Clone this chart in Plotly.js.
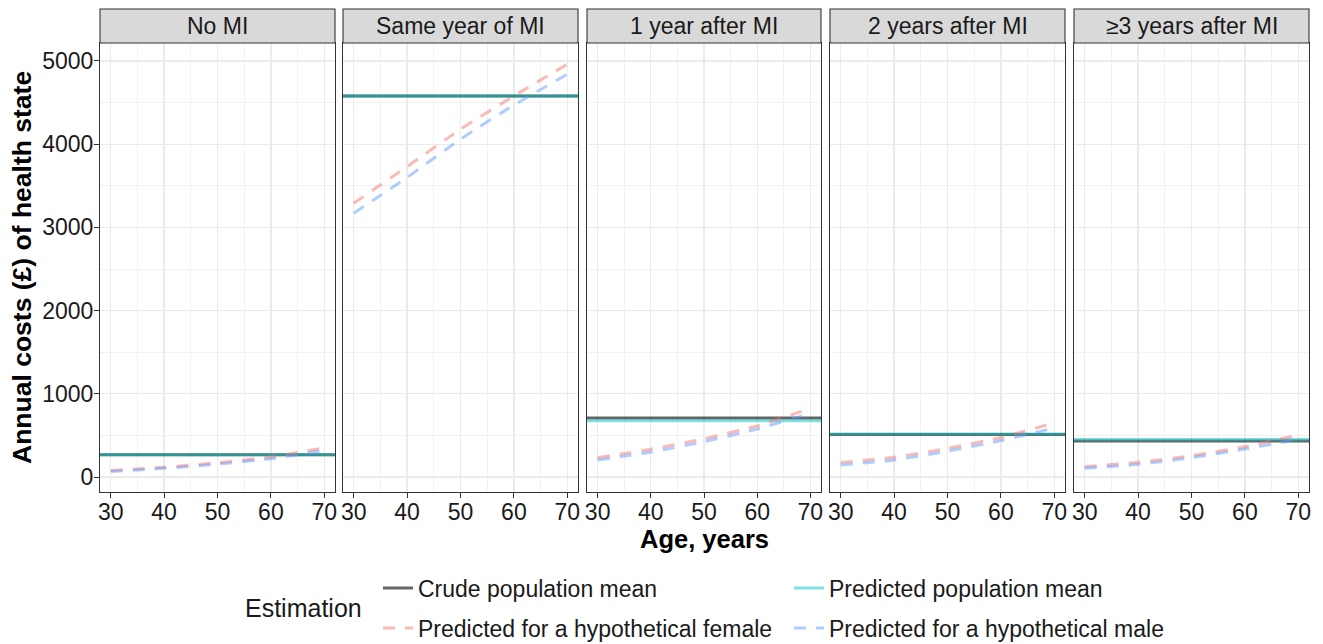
<!DOCTYPE html>
<html>
<head>
<meta charset="utf-8">
<script src="https://cdn.plot.ly/plotly-3.0.1.min.js"></script>
<style>html,body{margin:0;padding:0;background:#fff;}#chart{width:1323px;height:644px;}</style>
</head>
<body>
<div id="chart"></div>
<script>
// ---- data ----
const panels = ["No MI", "Same year of MI", "1 year after MI", "2 years after MI", "≥3 years after MI"];
const ages = [30, 40, 50, 60, 70];
const crudeMean = [268, 4580, 710, 512, 432];
const predictedMean = [268, 4580, 675, 518, 452];
const femaleCost = [
  [78, 118, 172, 242, 350],
  [3290, 3730, 4180, 4580, 4960],
  [232, 335, 460, 615, 825],
  [175, 238, 345, 475, 650],
  [124, 177, 257, 365, 505]
];
const maleCost = [
  [66, 104, 155, 220, 318],
  [3170, 3600, 4060, 4470, 4840],
  [205, 300, 425, 578, 765],
  [145, 205, 312, 438, 590],
  [104, 152, 233, 337, 455]
];
const seriesNames = ["Crude population mean", "Predicted population mean", "Predicted for a hypothetical female", "Predicted for a hypothetical male"];
const xTicks = [30, 40, 50, 60, 70];
const yTicks = [0, 1000, 2000, 3000, 4000, 5000];

// ---- layout helpers ----
const W = 1323, H = 644;
const mL = 100, mR = 14, mT = 43, mB = 152;
const plotW = W - mL - mR, plotH = H - mT - mB;
const panelPx = [[100, 335], [343, 578], [587, 821], [830, 1065], [1074, 1309]];
const toPX = px => (px - mL) / plotW;
const toPY = py => (H - mB - py) / plotH;
const toCX = px => px / W;
const toCY = py => 1 - py / H;

const FONT = "Liberation Sans, Arial, sans-serif";
const colCrude = "rgba(0,0,0,0.6)";
const colPred = "rgba(0,191,196,0.5)";
const colFem = "rgba(248,118,109,0.5)";
const colMale = "rgba(97,156,255,0.5)";

const traces = [];
const legendBase = {orientation: "h", xref: "container", yref: "container", xanchor: "left", yanchor: "middle",
  entrywidth: 366, entrywidthmode: "pixels", font: {family: FONT, size: 23, color: "#1a1a1a"},
  bgcolor: "rgba(0,0,0,0)", itemwidth: 30, tracegroupgap: 0};
const layout = {
  width: W, height: H,
  margin: {l: mL, r: mR, t: mT, b: mB, autoexpand: false},
  paper_bgcolor: "#fff", plot_bgcolor: "#fff",
  font: {family: FONT, size: 23, color: "#1a1a1a"},
  showlegend: true,
  shapes: [], annotations: [],
  legend: Object.assign({}, legendBase, {x: toCX(378), y: toCY(588)}),
  legend2: Object.assign({}, legendBase, {x: toCX(378), y: toCY(628)})
};

panels.forEach((name, i) => {
  const k = i === 0 ? "" : String(i + 1);
  const xa = "x" + k, ya = "y" + k;
  const dom = [toPX(panelPx[i][0]), toPX(panelPx[i][1])];
  layout["xaxis" + k] = {
    domain: dom, range: [28, 72], anchor: ya,
    tickvals: xTicks, ticktext: xTicks.map(String),
    ticks: "outside", ticklen: 5, tickcolor: "#333", tickwidth: 1,
    ticklabelstandoff: -6,
    tickfont: {family: FONT, size: 23, color: "#1a1a1a"},
    showgrid: true, gridcolor: "#EBEBEB", gridwidth: 1.2,
    minor: {dtick: 5, tick0: 25, showgrid: true, gridcolor: "#F1F1F1", gridwidth: 0.9},
    showline: true, mirror: true, linecolor: "#333", linewidth: 1.1,
    zeroline: false, fixedrange: true, automargin: false
  };
  layout["yaxis" + k] = {
    domain: [0, 1], range: [-180, 5216], anchor: xa,
    tickvals: yTicks, showticklabels: i === 0,
    ticks: i === 0 ? "outside" : "", ticklen: 5, tickcolor: "#333", tickwidth: 1,
    ticklabelstandoff: -4,
    tickfont: {family: FONT, size: 23, color: "#1a1a1a"},
    showgrid: true, gridcolor: "#EBEBEB", gridwidth: 1.2,
    minor: {dtick: 500, tick0: 500, showgrid: true, gridcolor: "#F1F1F1", gridwidth: 0.9},
    showline: true, mirror: true, linecolor: "#333", linewidth: 1.1,
    zeroline: false, fixedrange: true, automargin: false
  };
  if (i > 0) layout["yaxis" + k].matches = "y";

  // strip
  layout.shapes.push({type: "rect", xref: "paper", yref: "paper",
    x0: dom[0], x1: dom[1], y0: 1, y1: toPY(9),
    fillcolor: "#D9D9D9", line: {color: "#333", width: 1.1}});
  layout.annotations.push({xref: "paper", yref: "paper", x: (dom[0] + dom[1]) / 2, y: toPY(26),
    xanchor: "center", yanchor: "middle", showarrow: false, text: name,
    font: {family: FONT, size: 23, color: "#1a1a1a"}});

  const xr = [28, 72];
  traces.push({x: xr, y: [crudeMean[i], crudeMean[i]], xaxis: xa, yaxis: ya, mode: "lines",
    line: {color: colCrude, width: 3}, name: seriesNames[0], legendgroup: "c",
    showlegend: i === 0, legend: "legend", hoverinfo: "skip"});
  traces.push({x: xr, y: [predictedMean[i], predictedMean[i]], xaxis: xa, yaxis: ya, mode: "lines",
    line: {color: colPred, width: 3}, name: seriesNames[1], legendgroup: "p",
    showlegend: i === 0, legend: "legend", hoverinfo: "skip"});
  traces.push({x: ages, y: femaleCost[i], xaxis: xa, yaxis: ya, mode: "lines",
    line: {color: colFem, width: 3, dash: "12px,10px", shape: "spline", smoothing: 0.6}, name: seriesNames[2], legendgroup: "f",
    showlegend: i === 0, legend: "legend2", hoverinfo: "skip"});
  traces.push({x: ages, y: maleCost[i], xaxis: xa, yaxis: ya, mode: "lines",
    line: {color: colMale, width: 3, dash: "12px,10px", shape: "spline", smoothing: 0.6}, name: seriesNames[3], legendgroup: "m",
    showlegend: i === 0, legend: "legend2", hoverinfo: "skip"});
});

// axis titles & legend title
layout.annotations.push({xref: "paper", yref: "paper", x: toPX(704), y: toPY(539),
  xanchor: "center", yanchor: "middle", showarrow: false, text: "<b>Age, years</b>",
  font: {family: FONT, size: 25.5, color: "#000"}});
layout.annotations.push({xref: "paper", yref: "paper", x: toPX(22), y: toPY(268),
  xanchor: "center", yanchor: "middle", showarrow: false, textangle: -90,
  text: "<b>Annual costs (£) of health state</b>",
  font: {family: FONT, size: 26.5, color: "#000"}});
layout.annotations.push({xref: "paper", yref: "paper", x: toPX(243), y: toPY(608),
  xanchor: "left", yanchor: "middle", showarrow: false, text: "Estimation",
  font: {family: FONT, size: 25, color: "#1a1a1a"}});

Plotly.newPlot("chart", traces, layout, {displayModeBar: false, staticPlot: true});
</script>
</body>
</html>
